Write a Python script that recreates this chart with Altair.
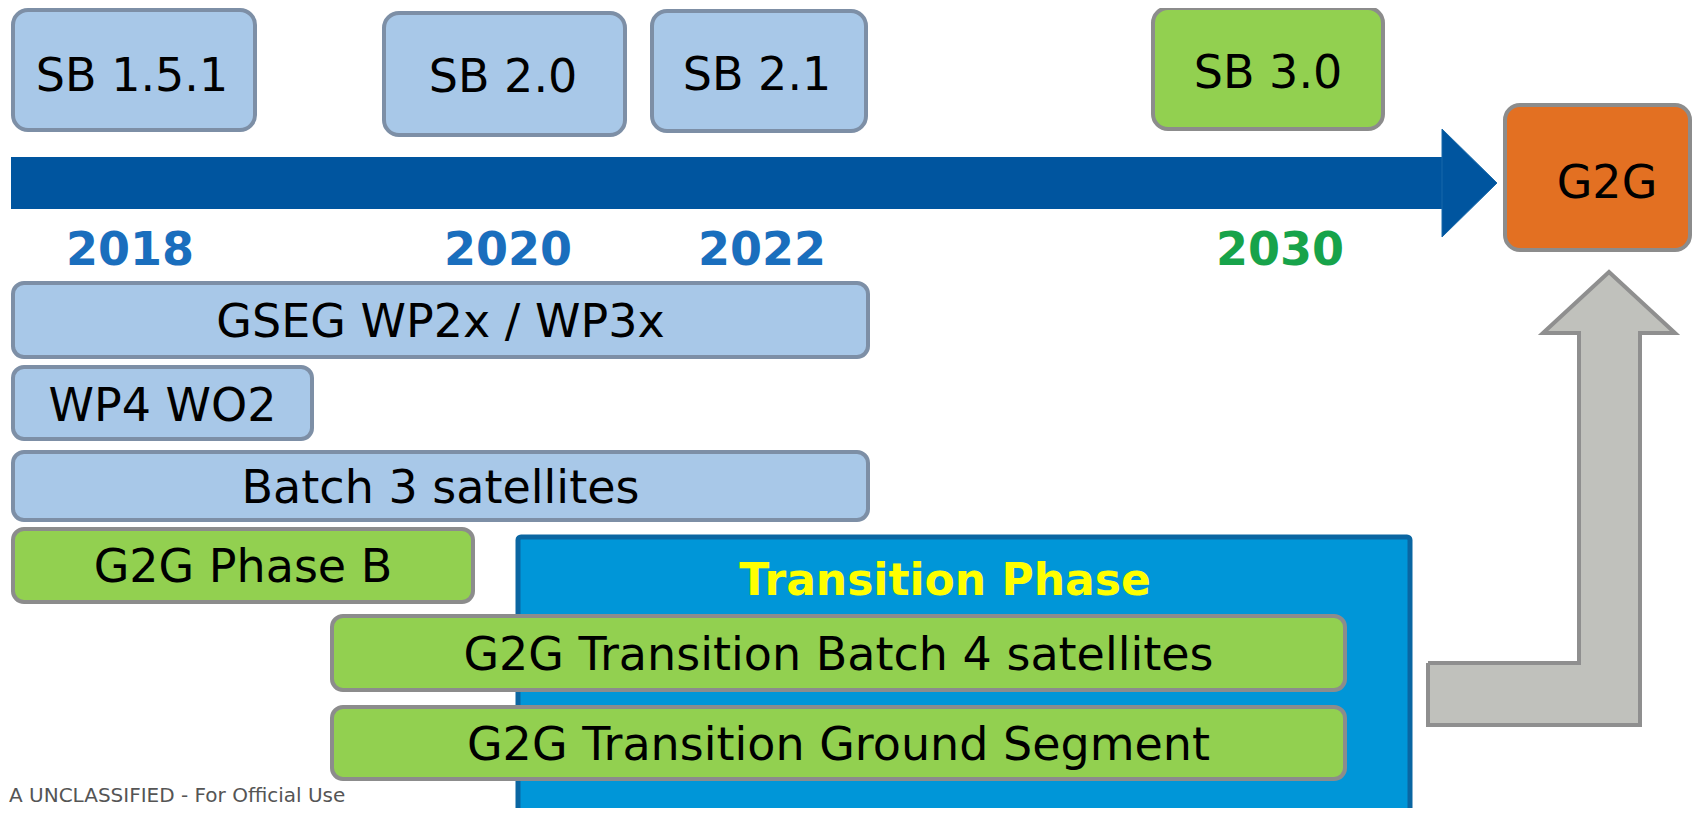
import altair as alt
import pandas as pd

# ---------------- diagram content (timeline coordinates) ----------------
# Software baseline releases (top row)
release_labels = ["SB 1.5.1", "SB 2.0", "SB 2.1", "SB 3.0", "G2G"]
release_kind = ["current", "current", "current", "future", "target"]
release_start = [13, 384, 652, 1153, 1505]
release_end = [255, 625, 866, 1383, 1690]
release_top = [10, 13, 11, 8, 105]
release_bottom = [130, 135, 131, 129, 250]
release_text_x = [132, 503, 757, 1268, 1607]
release_text_base = [91, 92, 90, 88, 198]

# Years under the timeline arrow
year_labels = ["2018", "2020", "2022", "2030"]
year_kind = ["current", "current", "current", "future"]
year_pos = [130, 508, 762, 1280]
year_base = [265, 265, 265, 265]

# Activities (bars)
task_labels = ["GSEG WP2x / WP3x", "WP4 WO2", "Batch 3 satellites", "G2G Phase B",
               "G2G Transition Batch 4 satellites", "G2G Transition Ground Segment"]
task_kind = ["current", "current", "current", "future", "future", "future"]
task_start = [13, 13, 13, 13, 332, 332]
task_end = [868, 312, 868, 473, 1345, 1345]
task_top = [283, 367, 452, 529, 616, 707]
task_bottom = [357, 439, 520, 602, 690, 779]
task_text_base = [337, 421, 503, 582, 670, 760]

# Transition phase frame
phase_label = ["Transition Phase"]
phase_start = [518]
phase_end = [1410]
phase_top = [537]
phase_bottom = [840]
phase_text_x = [945]
phase_text_base = [595]

# Timeline arrow (shaft + head)
tl_shaft_x = [11, 1443]
tl_shaft_y = [157, 209]
tl_head_x = [1442, 1497]
tl_head_top = [129, 183]
tl_head_bottom = [237, 183]

# Grey "leads to" arrow outline (path points)
ga_x = [1428, 1579, 1579, 1543, 1609, 1675, 1640, 1640, 1428, 1428]
ga_y = [663, 663, 333, 333, 272, 333, 333, 725, 725, 663]
ga_bar_x0 = [1428, 1579]
ga_bar_x1 = [1640, 1640]
ga_bar_y0 = [663, 333]
ga_bar_y1 = [725, 725]
ga_head_x = [1543, 1609, 1675]
ga_head_top = [333, 272, 333]
ga_head_bottom = [333, 333, 333]

footer = ["A UNCLASSIFIED - For Official Use"]

# ---------------- styling ----------------
W, H = 1685, 800
X0, Y0 = 8, 8
FONT = "DejaVu Sans"
kinds = ["current", "future", "target"]
fill_scale = alt.Scale(domain=kinds, range=["#a8c8e8", "#92d050", "#e37022"])
stroke_scale = alt.Scale(domain=kinds, range=["#7d8fa6", "#8c8c8c", "#8c8c8c"])
year_scale = alt.Scale(domain=["current", "future"], range=["#1a6ebd", "#17a34a"])

xs = alt.Scale(domain=[X0, X0 + W], nice=False, zero=False)
ys = alt.Scale(domain=[Y0, Y0 + H], reverse=True, nice=False, zero=False)


def X(f):
    return alt.X(f, type="quantitative", scale=xs, axis=None)


def Y(f):
    return alt.Y(f, type="quantitative", scale=ys, axis=None)


# ---------------- data frames ----------------
rel = pd.DataFrame(dict(label=release_labels, kind=release_kind, x0=release_start,
                        x1=release_end, y0=release_top, y1=release_bottom,
                        tx=release_text_x, ty=release_text_base))
task = pd.DataFrame(dict(label=task_labels, kind=task_kind, x0=task_start, x1=task_end,
                         y0=task_top, y1=task_bottom, ty=task_text_base))
task["tx"] = (task["x0"] + task["x1"]) / 2
yrs = pd.DataFrame(dict(label=year_labels, kind=year_kind, x=year_pos, y=year_base))
phase = pd.DataFrame(dict(label=phase_label, x0=phase_start, x1=phase_end, y0=phase_top,
                          y1=phase_bottom, tx=phase_text_x, ty=phase_text_base))
shaft = pd.DataFrame(dict(x0=[tl_shaft_x[0]], x1=[tl_shaft_x[1]], y0=[tl_shaft_y[0]],
                          y1=[tl_shaft_y[1]]))
head = pd.DataFrame(dict(x=tl_head_x, y0=tl_head_top, y1=tl_head_bottom))
ga_path = pd.DataFrame(dict(x=ga_x, y=ga_y, i=list(range(len(ga_x)))))
ga_bars = pd.DataFrame(dict(x0=ga_bar_x0, x1=ga_bar_x1, y0=ga_bar_y0, y1=ga_bar_y1))
ga_head = pd.DataFrame(dict(x=ga_head_x, y0=ga_head_top, y1=ga_head_bottom))
foot = pd.DataFrame(dict(label=footer, x=[X0 + 1], y=[Y0 + H - 6]))

# ---------------- layers ----------------
phase_box = alt.Chart(phase).mark_rect(
    fill="#0096d8", stroke="#0a66a2", strokeWidth=5, cornerRadius=3, clip=True
).encode(x=X("x0"), x2="x1", y=Y("y0"), y2="y1")

phase_text = alt.Chart(phase).mark_text(
    font=FONT, fontSize=44, fontWeight="bold", color="#ffff00", baseline="alphabetic",
    align="center"
).encode(x=X("tx"), y=Y("ty"), text="label")

shaft_m = alt.Chart(shaft).mark_rect(fill="#00559f").encode(
    x=X("x0"), x2="x1", y=Y("y0"), y2="y1")
head_m = alt.Chart(head).mark_area(fill="#00559f", stroke="#1669aa", strokeWidth=1).encode(
    x=X("x"), y=Y("y0"), y2="y1")

box_style = dict(cornerRadius=15, strokeWidth=4, clip=True)
rel_box = alt.Chart(rel).mark_rect(**box_style).encode(
    x=X("x0"), x2="x1", y=Y("y0"), y2="y1",
    fill=alt.Fill("kind:N", scale=fill_scale, legend=None),
    stroke=alt.Stroke("kind:N", scale=stroke_scale, legend=None))
rel_text = alt.Chart(rel).mark_text(
    font=FONT, fontSize=46, color="black", baseline="alphabetic", align="center"
).encode(x=X("tx"), y=Y("ty"), text="label")

task_box = alt.Chart(task).mark_rect(cornerRadius=11, strokeWidth=4).encode(
    x=X("x0"), x2="x1", y=Y("y0"), y2="y1",
    fill=alt.Fill("kind:N", scale=fill_scale, legend=None),
    stroke=alt.Stroke("kind:N", scale=stroke_scale, legend=None))
task_text = alt.Chart(task).mark_text(
    font=FONT, fontSize=46, color="black", baseline="alphabetic", align="center"
).encode(x=X("tx"), y=Y("ty"), text="label")

year_text = alt.Chart(yrs).mark_text(
    font=FONT, fontSize=46, fontWeight="bold", baseline="alphabetic", align="center"
).encode(x=X("x"), y=Y("y"), text="label",
         color=alt.Color("kind:N", scale=year_scale, legend=None))

ga_bar_m = alt.Chart(ga_bars).mark_rect(fill="#c0c1bc").encode(
    x=X("x0"), x2="x1", y=Y("y0"), y2="y1")
ga_head_m = alt.Chart(ga_head).mark_area(fill="#c0c1bc").encode(
    x=X("x"), y=Y("y0"), y2="y1")
ga_line = alt.Chart(ga_path).mark_line(color="#8f8f8f", strokeWidth=4, strokeJoin="miter").encode(
    x=X("x"), y=Y("y"), order="i:Q")

foot_text = alt.Chart(foot).mark_text(
    font=FONT, fontSize=20, color="#555555", baseline="alphabetic", align="left"
).encode(x=X("x"), y=Y("y"), text="label")

chart = alt.layer(
    phase_box, shaft_m, head_m, rel_box, task_box, ga_bar_m, ga_head_m, ga_line,
    phase_text, rel_text, task_text, year_text, foot_text
).properties(
    width=W, height=H, autosize=alt.AutoSizeParams(type="none"), padding=0,
    background="white"
).configure_view(strokeWidth=0)

chart.save("out.html", embed_options={"renderer": "svg", "actions": False})
